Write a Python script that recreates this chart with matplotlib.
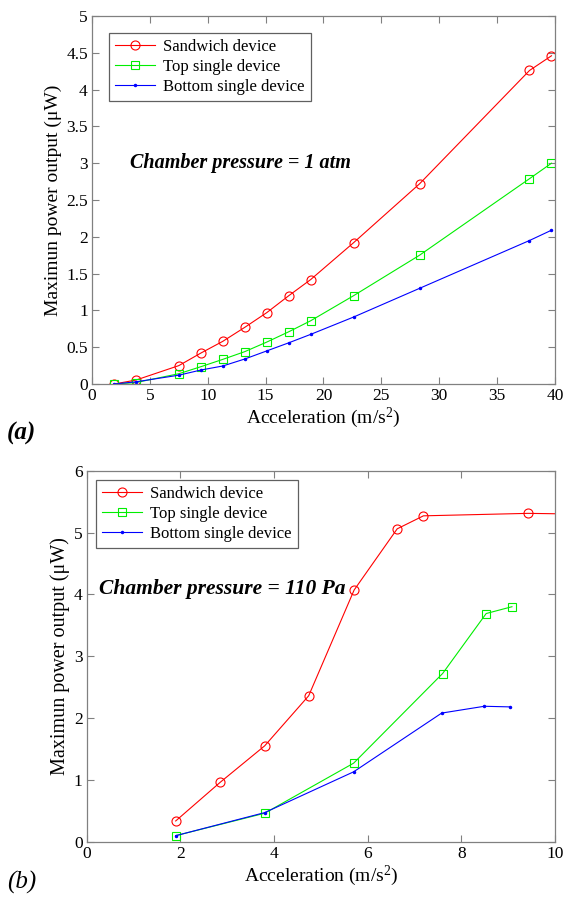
import matplotlib
matplotlib.use("Agg")
import matplotlib.pyplot as plt

plt.rcParams['font.family'] = ['Liberation Serif', 'DejaVu Serif']
plt.rcParams['mathtext.fontset'] = 'custom'
plt.rcParams['mathtext.rm'] = 'Liberation Serif'
plt.rcParams['mathtext.it'] = 'Liberation Serif:italic'
plt.rcParams['mathtext.default'] = 'rm'

# (a) Chamber pressure = 1 atm
acc_a = [1.9, 3.8, 7.5, 9.4, 11.3, 13.2, 15.1, 17.0, 18.9, 22.6, 28.3, 37.8, 39.7]
sand_a = [0.0, 0.054, 0.25, 0.42, 0.58, 0.77, 0.97, 1.20, 1.42, 1.92, 2.72, 4.26, 4.46]
top_a = [0.0, 0.02, 0.14, 0.235, 0.335, 0.44, 0.57, 0.71, 0.86, 1.20, 1.75, 2.79, 3.0]
bot_a = [0.0, 0.03, 0.12, 0.19, 0.245, 0.34, 0.45, 0.56, 0.675, 0.91, 1.30, 1.95, 2.09]

# (b) Chamber pressure = 110 Pa
acc_b_sand = [1.9, 2.85, 3.8, 4.74, 5.71, 6.63, 7.19, 9.42, 11.3]
sand_b = [0.335, 0.96, 1.55, 2.36, 4.07, 5.06, 5.27, 5.31, 5.29]
acc_b_top = [1.9, 3.8, 5.7, 7.6, 8.53, 9.08]
top_b = [0.097, 0.46, 1.27, 2.72, 3.69, 3.80]
acc_b_bot = [1.9, 3.8, 5.7, 7.58, 8.49, 9.04]
bot_b = [0.097, 0.47, 1.13, 2.08, 2.19, 2.18]

labels = ['Sandwich device', 'Top single device', 'Bottom single device']
ylab = 'Maximun power output (\u03bcW)'
xlab = r'Acceleration (m/s$^{2}$)'

fig = plt.figure(figsize=(5.66, 9.0), dpi=100)
ax1 = fig.add_axes([0.1625, 0.5733, 0.818, 0.4089])
ax2 = fig.add_axes([0.1532, 0.0648, 0.8274, 0.4122])

def style(ax):
    for s in ax.spines.values():
        s.set_color('#808080')
        s.set_linewidth(0.9)
    ax.tick_params(direction='in', top=True, right=True, length=5,
                   color='#808080', labelsize=12.5, labelcolor='black', pad=3)

def draw(ax, xs, ys, anchor):
    l1, = ax.plot(xs[0], ys[0], color='#ff0000', lw=0.8, marker='o', ms=6.5,
                  mfc='none', mec='#ff0000', mew=0.8)
    l2, = ax.plot(xs[1], ys[1], color='#00ee00', lw=0.8, marker='s', ms=5.5,
                  mfc='none', mec='#00ee00', mew=0.8)
    l3, = ax.plot(xs[2], ys[2], color='#0000ff', lw=0.8, marker='.', ms=3)
    leg = ax.legend([l1, l2, l3], labels, loc='upper left', bbox_to_anchor=anchor,
                    fontsize=12, frameon=True, fancybox=False, framealpha=1,
                    handlelength=2.4, handletextpad=0.5, borderpad=0.35,
                    labelspacing=0.25, borderaxespad=0)
    leg.get_frame().set_edgecolor('#606060')
    leg.get_frame().set_linewidth(0.9)

draw(ax1, [acc_a, acc_a, acc_a], [sand_a, top_a, bot_a], (0.037, 0.954))
ax1.set_xlim(0, 40)
ax1.set_ylim(0, 5)
ax1.set_xticks(range(0, 41, 5))
ax1.set_yticks([0, 0.5, 1, 1.5, 2, 2.5, 3, 3.5, 4, 4.5, 5])
ax1.set_yticklabels(['0', '0.5', '1', '1.5', '2', '2.5', '3', '3.5', '4', '4.5', '5'])
style(ax1)
ax1.set_xlabel(xlab, fontsize=14, labelpad=1)
ax1.set_ylabel(ylab, fontsize=14, labelpad=3)
ax1.text(0.083, 0.60, 'Chamber pressure = 1 atm', transform=ax1.transAxes,
         fontsize=14.5, fontweight='bold', fontstyle='italic', va='center', ha='left')

draw(ax2, [acc_b_sand, acc_b_top, acc_b_bot], [sand_b, top_b, bot_b], (0.02, 0.975))
ax2.set_xlim(0, 10)
ax2.set_ylim(0, 6)
ax2.set_xticks(range(0, 11, 2))
ax2.set_yticks(range(0, 7))
style(ax2)
ax2.set_xlabel(xlab, fontsize=14, labelpad=1)
ax2.set_ylabel(ylab, fontsize=14.5, labelpad=3)
ax2.text(0.026, 0.68, 'Chamber pressure = 110 Pa', transform=ax2.transAxes,
         fontsize=15.5, fontweight='bold', fontstyle='italic', va='center', ha='left')

fig.text(0.012, 1 - 433 / 900, '(a)', fontsize=18, fontweight='bold',
         fontstyle='italic', va='center', ha='left')
fig.text(0.012, 1 - 882 / 900, '(b)', fontsize=18,
         fontstyle='italic', va='center', ha='left')

fig.savefig('out.png', dpi=100)
